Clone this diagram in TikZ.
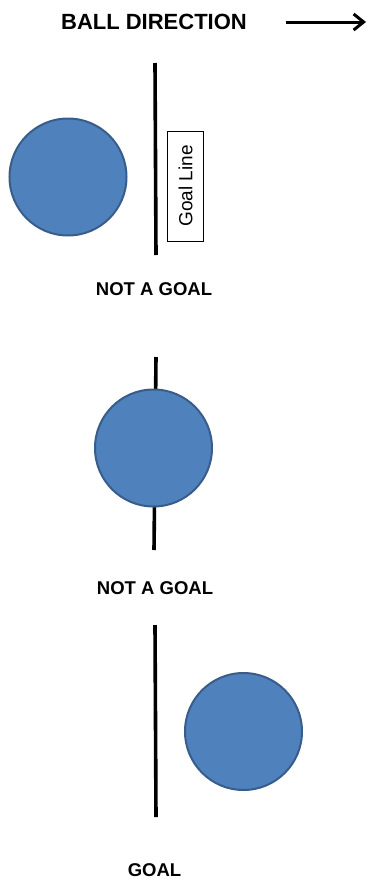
\documentclass[tikz,border=0pt]{standalone}
\usepackage{fontspec}
\setmainfont{Liberation Sans}
\usetikzlibrary{arrows.meta,positioning}
\definecolor{GLball}{RGB}{79,129,189}
\definecolor{GLedge}{RGB}{56,93,138}
\tikzset{
  ball/.style={circle,draw=GLedge,line width=2pt,fill=GLball,
               minimum size=117pt,inner sep=0pt},
  goalline/.style={line width=3.6pt,draw=black},
  verdict/.style={font=\fontsize{18.5}{20}\selectfont\bfseries,text=black,inner sep=0pt},
  title/.style={font=\fontsize{22}{24}\selectfont\bfseries,text=black,inner sep=0pt},
  tag/.style={draw=black,line width=0.8pt,fill=white,rotate=90,
              font=\fontsize{19}{20}\selectfont,minimum width=110pt,
              minimum height=36pt,inner sep=0pt},
  travel/.style={draw=black,line width=3pt,
                 -{Straight Barb[length=10pt,width=16pt,line width=3pt]}}
}
\begin{document}
\begin{tikzpicture}[x=1pt,y=-1pt]
  \useasboundingbox (0,0) rectangle (371,881);
  % heading
  \node[title] (heading) at (154,22) {BALL DIRECTION};
  \coordinate (dirA) at (286,22);
  \coordinate (dirB) at (366,22);
  \draw[travel] (dirA) -- (dirB);
  % ball before the line
  \coordinate (lineAtop) at (155,63);
  \coordinate (lineAbot) at (156,255);
  \draw[goalline] (lineAtop) -- (lineAbot);
  \node[ball] (ballA) at (68,177) {};
  \node[tag] (label) at (185.5,186) {Goal Line};
  \node[verdict] (verdictA) at (154,289) {NOT A GOAL};
  % ball on the line
  \coordinate (lineBtop) at (156,357);
  \coordinate (lineBbot) at (154,550);
  \draw[goalline] (lineBtop) -- (lineBbot);
  \node[ball] (ballB) at (153.5,448) {};
  \node[verdict] (verdictB) at (155,588) {NOT A GOAL};
  % ball over the line
  \coordinate (lineCtop) at (155,625);
  \coordinate (lineCbot) at (156,817);
  \draw[goalline] (lineCtop) -- (lineCbot);
  \node[ball] (ballC) at (243.5,731.5) {};
  \node[verdict] (verdictC) at (154.5,870) {GOAL};
\end{tikzpicture}
\end{document}
